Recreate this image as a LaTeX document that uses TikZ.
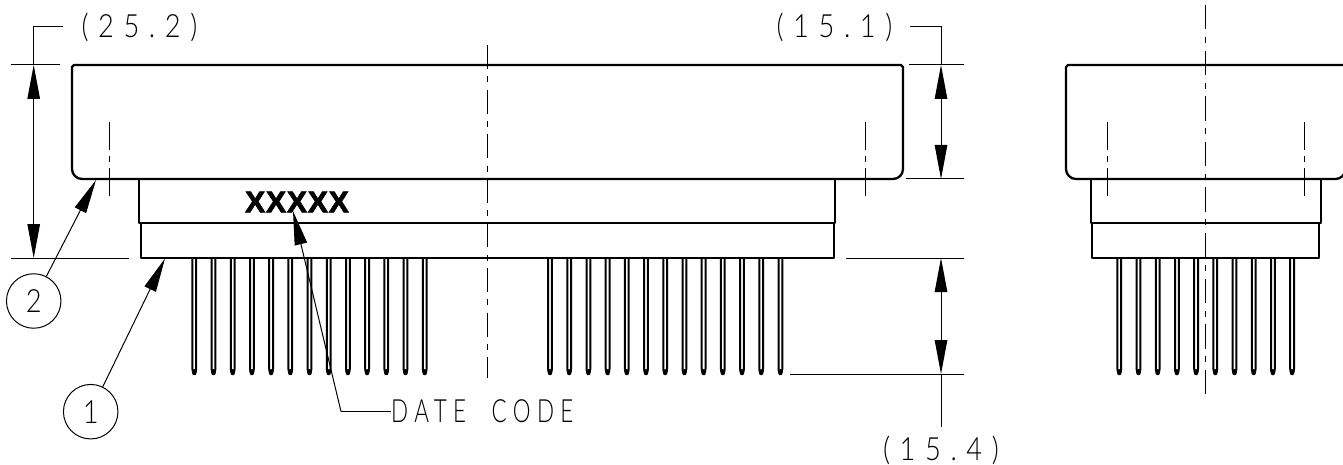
\documentclass[tikz,border=0pt]{standalone}
\usepackage{fontspec}
\usetikzlibrary{arrows.meta}
\newfontfamily\cadfont[UprightFont={* Light},FakeStretch=0.85,LetterSpace=30]{Lato}
\newfontfamily\codefont[UprightFont={* Light},FakeStretch=0.7,LetterSpace=20]{Lato}
\newfontfamily\markfont[FakeBold=2.6,LetterSpace=3]{Liberation Sans Bold}
\tikzset{
  x=1pt,y=-1pt,
  outline/.style={line width=2.3pt,black,line join=round},
  thin line/.style={line width=1pt,black},
  pinline/.style={line width=2pt,black,line join=round},
  dimtip/.style={{Triangle[length=34pt,width=12.5pt]}-{Triangle[length=34pt,width=12.5pt]},thin line},
  leadtip/.style={-{Triangle[length=34pt,width=12.5pt]},thin line},
  centerA/.style={line width=1pt,black,dash pattern=on 24pt off 7.4pt on 6pt off 7.2pt},
  centerB/.style={line width=1pt,black,dash pattern=on 24.5pt off 7.5pt on 6pt off 7.6pt},
  centerS/.style={line width=1pt,black,dash pattern=on 28pt off 6pt on 6pt off 6pt},
  cadtext/.style={inner sep=0pt,font=\cadfont\fontsize{32}{32}\selectfont},
  balloon/.style={circle,draw,line width=1pt,minimum size=54.5pt,inner sep=0pt,font=\cadfont\fontsize{32}{32}\selectfont},
}
\newcommand{\pinat}[1]{%
  \draw[pinline] (#1-1.9,258) -- (#1-1.9,369) -- (#1-0.9,374) -- (#1+0.9,374) -- (#1+1.9,369) -- (#1+1.9,258);
  \fill[black] (#1,371.5) circle[radius=2.4];
}
\begin{document}
\begin{tikzpicture}
\useasboundingbox (0,0) rectangle (1343,465);
\clip (0,0) rectangle (1343,465);
% main view
\draw[outline] (72,67) -- (74,65) -- (901,65) -- (903,67) -- (903,169) arc[start angle=0,end angle=90,radius=10] -- (82,179) arc[start angle=90,end angle=180,radius=10] -- cycle;
\draw[outline] (139,179) -- (139,223) -- (835,223) -- (835,179);
\draw[outline] (141,223) -- (141,258) -- (834,258) -- (834,223);
\foreach \i in {0,...,12}{
  \pgfmathsetmacro{\xa}{194.3+19.2*\i}
  \pinat{\xa}
  \pgfmathsetmacro{\xb}{550+19.2*\i}
  \pinat{\xb}
}
\draw[centerA] (487.3,45) -- (487.3,378);
\draw[centerS] (109.3,122) -- (109.3,196);
\draw[centerS] (865.7,122) -- (865.7,196);
% side view
\draw[outline] (1066,67) -- (1068,65) -- (1343.4,65) -- (1345.4,67) -- (1345.4,169) arc[start angle=0,end angle=90,radius=10] -- (1076,179) arc[start angle=90,end angle=180,radius=10] -- cycle;
\draw[outline] (1091,179) -- (1091,223) -- (1320.7,223) -- (1320.7,179);
\draw[outline] (1092.3,223) -- (1092.3,258) -- (1319.3,258) -- (1319.3,223);
\foreach \i in {0,...,9}{
  \pgfmathsetmacro{\xc}{1119.3+19.2*\i}
  \pinat{\xc}
}
\draw[centerB] (1205.7,5) -- (1205.7,395);
\draw[centerS] (1107.7,122) -- (1107.7,196);
\draw[centerS] (1304,122) -- (1304,196);
% extension lines
\coordinate (elA) at (11,65);   \coordinate (erA) at (60,65);
\coordinate (elB) at (11,258);  \coordinate (erB) at (129,258);
\coordinate (elC) at (909,65);  \coordinate (erC) at (964,65);
\coordinate (elD) at (906,179); \coordinate (erD) at (964,179);
\coordinate (elE) at (846,258); \coordinate (erE) at (964,258);
\coordinate (elF) at (790,374); \coordinate (erF) at (964,374);
\foreach \a/\b in {elA/erA,elB/erB,elC/erC,elD/erD,elE/erE,elF/erF}{\draw[thin line] (\a) -- (\b);}
% dimensions
\node[cadtext] (t252) at (139.5,27) {(25.2)};
\node[cadtext] (t151) at (834.5,27) {(15.1)};
\node[cadtext] (t154) at (941,450) {(15.4)};
\coordinate (la) at (62.5,27);  \coordinate (lb) at (33.7,27);
\coordinate (da) at (33.7,65);  \coordinate (db) at (33.7,258);
\draw[thin line] (la) -- (lb) -- (da);
\draw[dimtip] (da) -- (db);
\coordinate (ra) at (910,27);   \coordinate (rb) at (941,27);
\coordinate (dc) at (941,65);   \coordinate (dd) at (941,179);
\draw[thin line] (ra) -- (rb) -- (dc);
\draw[dimtip] (dc) -- (dd);
\coordinate (de) at (941,258);  \coordinate (df) at (941,374);
\coordinate (dg) at (941,426.7);
\draw[dimtip] (de) -- (df);
\draw[thin line] (df) -- (dg);
% balloons
\node[balloon] (b2) at (33.7,301) {2};
\node[balloon] (b1) at (90.7,411.7) {1};
\coordinate (tip2) at (96,180);
\coordinate (tip1) at (165,258.5);
\draw[leadtip] (b2) -- (tip2);
\draw[leadtip] (b1) -- (tip1);
% date code
\node[inner sep=0pt,font=\markfont\fontsize{30}{30}\selectfont] (mark) at (297,202) {XXXXX};
\node[inner sep=0pt,font=\codefont\fontsize{32}{32}\selectfont,anchor=west] (code) at (391,411.5) {DATE\hspace{13pt} CODE};
\coordinate (knee) at (341,411.5);
\coordinate (tip3) at (293,211);
\draw[thin line] (code.west) -- ++(-5,0) -- (knee);
\draw[leadtip] (knee) -- (tip3);
\end{tikzpicture}
\end{document}
